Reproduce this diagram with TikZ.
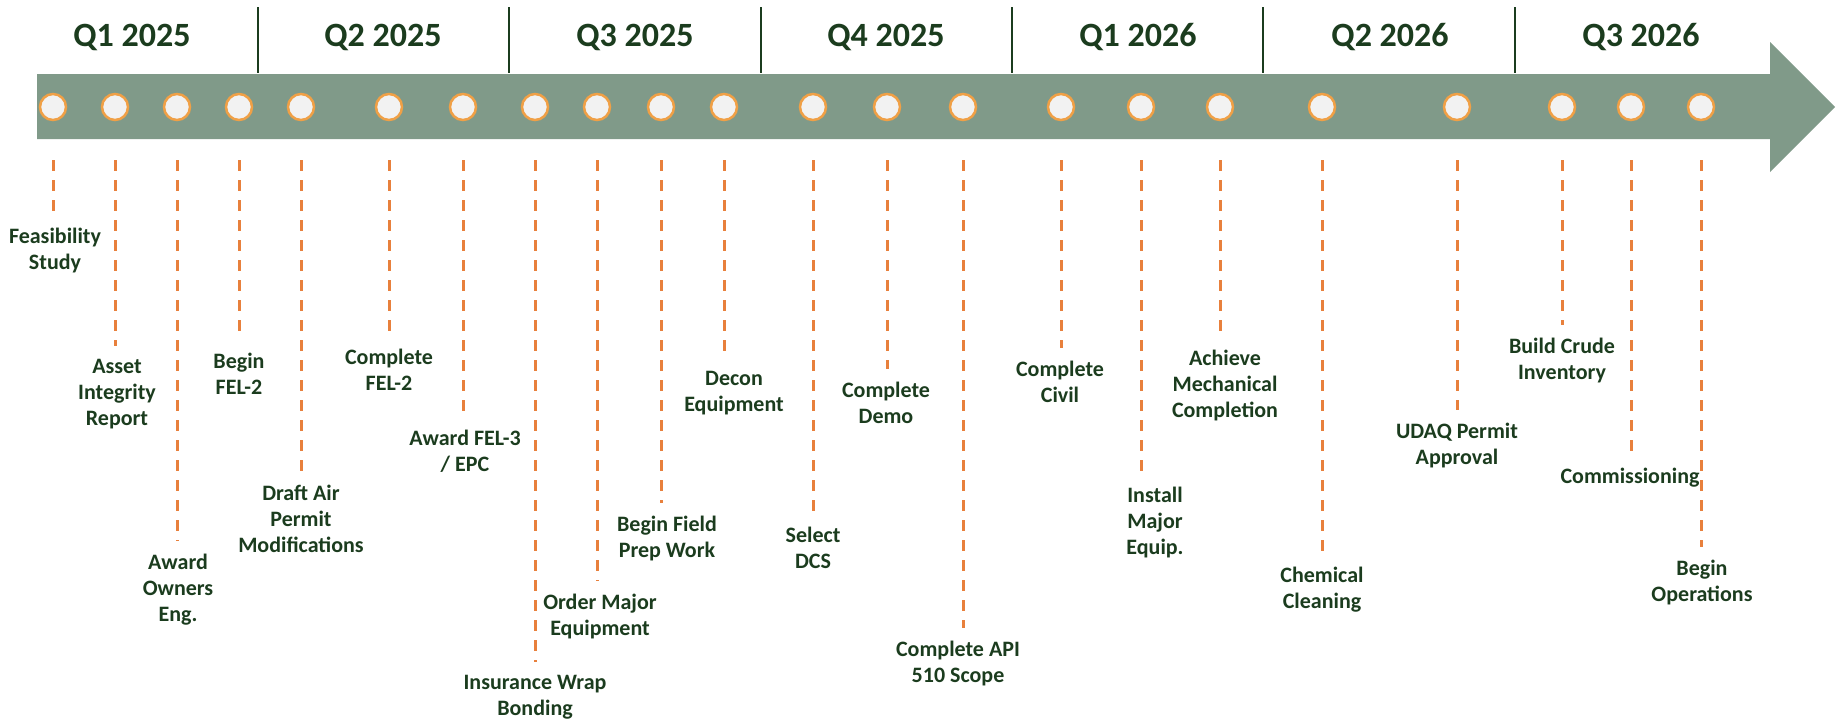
\documentclass[tikz,border=0pt]{standalone}
\usepackage{fontspec}
\setmainfont{Carlito}
\definecolor{bandgreen}{RGB}{128,154,137}
\definecolor{darkgreen}{RGB}{27,60,30}
\definecolor{dashorange}{RGB}{232,128,60}
\definecolor{ringorange}{RGB}{240,160,70}
\definecolor{dotfill}{RGB}{242,242,242}
\tikzset{
	quarter/.style={font=\fontsize{34}{40}\selectfont\bfseries, text=darkgreen, anchor=base, inner sep=0pt},
	sepline/.style={draw=darkgreen, line width=2pt},
	milestone/.style={circle, draw=ringorange, line width=2.5pt, fill=dotfill, minimum size=26pt, inner sep=0pt},
	event/.style={font=\fontsize{22}{26}\selectfont\bfseries, text=darkgreen, align=center, anchor=north, inner sep=0pt, outer ysep=13pt},
	leader/.style={draw=dashorange, line width=3pt, dash pattern=on 10.5pt off 9.5pt, shorten <=39pt}
}

\begin{document}
\begin{tikzpicture}[x=1pt,y=-1pt]
			\useasboundingbox (0,0) rectangle (1842,726);
			\fill[bandgreen] (37,74) -- (1770,74) -- (1770,42) -- (1835,107) -- (1770,172) -- (1770,139) -- (37,139) -- cycle;
			\path[sepline] (258,7) -- (258,73) (509,7) -- (509,73) (761,7) -- (761,73)
				(1012,7) -- (1012,73) (1263,7) -- (1263,73) (1515,7) -- (1515,73);
			\node[quarter] (q1) at (132,46) {Q1 2025};
			\node[quarter] (q2) at (383,46) {Q2 2025};
			\node[quarter] (q3) at (635,46) {Q3 2025};
			\node[quarter] (q4) at (886,46) {Q4 2025};
			\node[quarter] (q5) at (1138,46) {Q1 2026};
			\node[quarter] (q6) at (1390,46) {Q2 2026};
			\node[quarter] (q7) at (1641,46) {Q3 2026};
			\node[milestone] (m1) at (53,107) {};
			\node[milestone] (m2) at (115,107) {};
			\node[milestone] (m3) at (177,107) {};
			\node[milestone] (m4) at (239,107) {};
			\node[milestone] (m5) at (301,107) {};
			\node[milestone] (m6) at (389,107) {};
			\node[milestone] (m7) at (463,107) {};
			\node[milestone] (m8) at (535,107) {};
			\node[milestone] (m9) at (597,107) {};
			\node[milestone] (m10) at (661,107) {};
			\node[milestone] (m11) at (724,107) {};
			\node[milestone] (m12) at (813,107) {};
			\node[milestone] (m13) at (887,107) {};
			\node[milestone] (m14) at (963,107) {};
			\node[milestone] (m15) at (1061,107) {};
			\node[milestone] (m16) at (1141,107) {};
			\node[milestone] (m17) at (1220,107) {};
			\node[milestone] (m18) at (1322,107) {};
			\node[milestone] (m19) at (1457,107) {};
			\node[milestone] (m20) at (1562,107) {};
			\node[milestone] (m21) at (1631,107) {};
			\node[milestone] (m22) at (1701,107) {};
			\node[event] (t1) at (55,215) {Feasibility\\Study};
			\node[event] (t2) at (117,346) {Asset\\Integrity\\Report};
			\node[event] (t3) at (178,541) {Award\\Owners\\Eng.};
			\node[event] (t4) at (239,340) {Begin\\FEL-2};
			\node[event] (t5) at (301,472) {Draft Air\\Permit\\Modifications};
			\node[event] (t6) at (389,336) {Complete\\FEL-2};
			\node[event] (t7) at (465,417) {Award FEL-3\\/ EPC};
			\node[event] (t8) at (535,662) {Insurance Wrap\\Bonding};
			\node[event] (t9) at (600,581) {Order Major\\Equipment};
			\node[event] (t10) at (667,503) {Begin Field\\Prep Work};
			\node[event] (t11) at (734,358) {Decon\\Equipment};
			\node[event] (t12) at (813,514) {Select\\DCS};
			\node[event] (t13) at (886,369) {Complete\\Demo};
			\node[event] (t14) at (958,628) {Complete API\\510 Scope};
			\node[event] (t15) at (1060,348) {Complete\\Civil};
			\node[event] (t16) at (1155,474) {Install\\Major\\Equip.};
			\node[event] (t17) at (1225,337) {Achieve\\Mechanical\\Completion};
			\node[event] (t18) at (1322,554) {Chemical\\Cleaning};
			\node[event] (t19) at (1457,410) {UDAQ Permit\\Approval};
			\node[event] (t20) at (1562,325) {Build Crude\\Inventory};
			\node[event] (t21) at (1630,455) {Commissioning};
			\node[event] (t22) at (1702,547) {Begin\\Operations};
			\path[leader]
			(m1.south) edge (m1 |- t1.north) (m2.south) edge (m2 |- t2.north)
			(m3.south) edge (m3 |- t3.north) (m4.south) edge (m4 |- t4.north)
			(m5.south) edge (m5 |- t5.north) (m6.south) edge (m6 |- t6.north)
			(m7.south) edge (m7 |- t7.north) (m8.south) edge (m8 |- t8.north)
			(m9.south) edge (m9 |- t9.north) (m10.south) edge (m10 |- t10.north)
			(m11.south) edge (m11 |- t11.north) (m12.south) edge (m12 |- t12.north)
			(m13.south) edge (m13 |- t13.north) (m14.south) edge (m14 |- t14.north)
			(m15.south) edge (m15 |- t15.north) (m16.south) edge (m16 |- t16.north)
			(m17.south) edge (m17 |- t17.north) (m18.south) edge (m18 |- t18.north)
			(m19.south) edge (m19 |- t19.north) (m20.south) edge (m20 |- t20.north)
			(m21.south) edge (m21 |- t21.north) (m22.south) edge (m22 |- t22.north);
		\end{tikzpicture}
\end{document}
